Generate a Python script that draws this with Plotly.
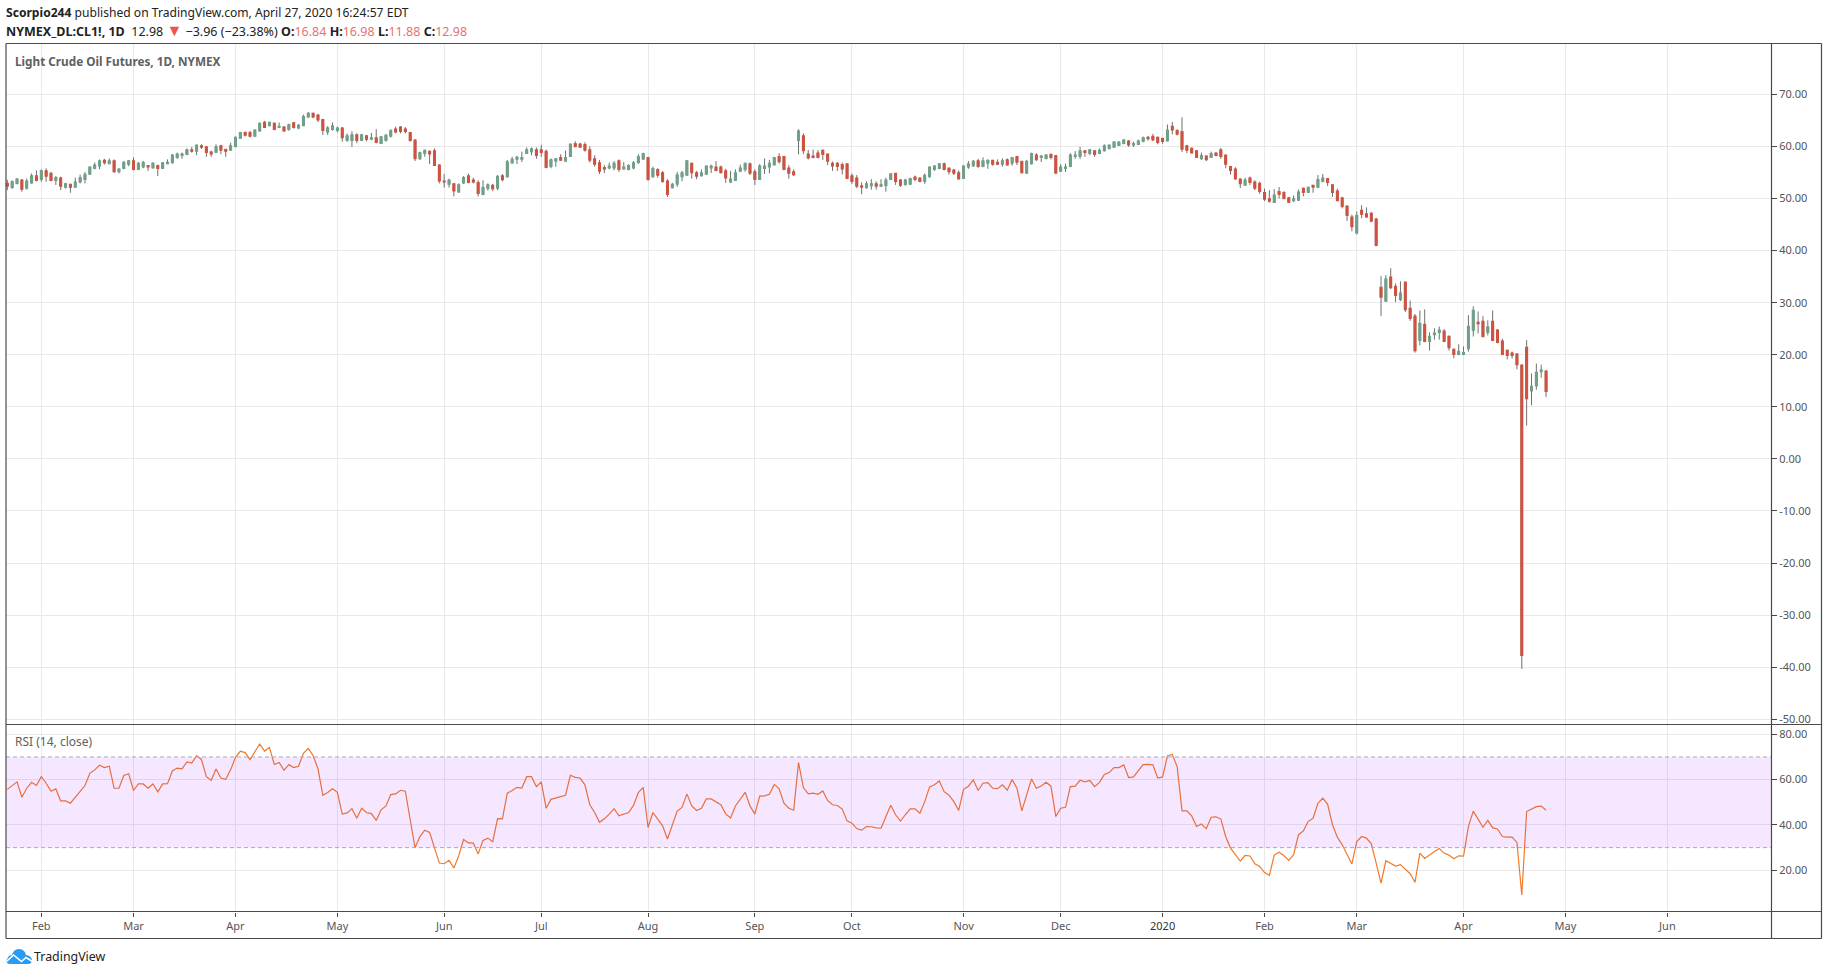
import plotly.graph_objects as go

W, H = 1828, 975

# ---------- Price data ----------
opens = [
52.9,52.1,52.9,53.5,52,53,54.3,53.7,55.3,54.8,
53.5,53.9,52.2,52.7,52.2,53.2,53.7,54.7,55.8,56.3,
57.3,56.7,57.2,55.2,55.8,56.6,57.2,55.6,56.1,56.3,
55.9,56.3,55.8,56.7,56.9,57.9,58.3,58.5,59.3,59.1,
60.1,59.9,58.9,58.9,60.1,59.4,59.3,60,61.6,62.6,
62.6,62,63,64.6,64,64.4,63.7,63.7,63.3,64.5,
63.6,64,65.7,66.3,66,65.1,62.8,63.3,63.1,63.5,
61.2,61.2,62.2,61.2,62,61.4,61.6,60.6,61.2,62,
63.3,63.7,63.3,62.6,61.2,57.7,58.7,59,59.1,56.4,
53.3,52.8,52.8,51.3,53,54.3,53.5,53,50.8,52,
52.5,52,
54.3,54.2,56.9,57.6,57.6,58.7,59,59.3,59.3,59,
56.2,57.2,57.8,57.2,58.1,60.5,60.4,60.3,59.3,57.6,
56.8,55.9,55.9,55.9,57.2,55.7,55.6,55.9,56.9,57.6,
57.8,54.2,55.5,54.9,53.3,52.1,52.8,54.2,54.5,56.7,
54.9,54.4,54.7,55.9,56,56,55.3,53.2,53.5,55.3,
55.6,56.6,55.1,53.7,55.8,56.1,56.5,58,58,55.8,
55.1,61.2,62,58.5,58.1,58.7,59.2,58.5,56.7,56.7,
56.5,56.6,54.3,53.9,52.4,52.1,52.5,52.8,52.4,52.5,
53.7,54.8,53.5,52.7,52.8,54.1,53.9,53.3,54.2,55.6,
55.8,56.6,55.8,55.4,54.9,53.9,56.1,56.3,57.2,56.2,
56.8,57.3,56.9,
56.6,57.4,56.8,58,57.1,54.9,56.7,58.3,57.9,57.7,
58.4,58.2,55.3,55.8,56.2,58.1,58.1,59.1,58.7,59.1,
58.7,59.2,59.6,59.9,60.2,60.6,61,60.3,60.4,61,
61.7,61.9,61.7,61.5,61.1,63.8,63,62.8,60.1,59.6,
59.1,57.7,58.1,57.9,58.7,59.3,58.3,56.1,55.6,53.7,
52.6,53.9,53.1,52.9,51.1,49.9,49.3,51.3,51.1,50.1,
49.6,49.7,51.9,51.2,52.5,52.2,53.3,53.8,52.6,51.4,
50.1,48.5,46.4,43.4,47.7,47,47.1,46,
32.9,30.3,34.9,33.1,30.6,33.9,28.9,27.4,22.8,25.8,
22.6,23.9,24.3,24.5,23.5,21,20.1,20.1,21.2,24.7,
26.2,26.4,24.3,26.4,24.7,22.6,20.8,20.3,20.1,18,
21.4,13.1,14.1,16.8,16.84]

closes = [
52.4,53.2,53.7,51.8,53.3,54.3,53.5,55.3,54.3,53.5,
54,52.4,52.8,52.2,53.1,54,54.6,56,56.4,57.2,
56.9,57.2,55.2,55.6,56.9,57.2,55.6,56.7,56.9,56.1,
56.7,55.8,56.8,56.9,58.3,58.5,58.5,59.3,59.1,60.2,
59.9,58.9,58.6,59.9,59.3,59.1,60.1,61.7,62.6,62.2,
62,63.1,64.4,63.7,64.6,63.3,63.8,63,64.1,63.7,
64,65.7,66.3,65.7,65.1,63.1,63.5,63.9,63.5,61.7,
62,62.2,61.2,62.2,61.4,61.6,60.8,61.8,62.1,63,
62.8,62.9,62.9,61.2,57.7,58.8,59.2,58.6,56.4,53.4,
53.2,53.5,51.5,52.6,54,53.1,53.2,51,52.1,52.6,
51.9,54.2,
53.65,57,57.5,57.9,57.8,59.3,59.5,58.3,58.9,56,
57.4,57.6,57.4,57.8,60.4,60,59.9,59.3,57.4,56.6,
55.3,55.7,56.2,56.7,55.6,56,56.3,56.8,58,58.6,
53.7,55.7,54.5,53.3,50.8,52.7,54.5,54.9,57.2,55,
54.3,54.9,56.2,56.2,55.4,55,54,53.7,54.9,55.8,
56.7,54.9,53.7,56.2,56.2,56.7,57.8,57.1,55.6,54.9,
54.6,62.9,59.2,57.8,57.9,57.9,58.5,57.2,56.3,56.2,
55.7,53.9,53.3,52.4,52.2,52.8,52.8,52.4,52.6,53.5,
54.7,53.3,52.6,53.5,53.8,53.7,53.3,54.4,56,56.2,
56.6,55.6,55.2,54.9,53.8,56.2,56.6,57.1,56.2,57.2,
57.3,56.6,56.6,
57.2,56.5,57.8,57,55,57.1,58.6,57.5,58.1,58.3,
57.9,54.9,56,56,58.3,58.3,59.1,58.9,59.3,58.5,
59.2,60.1,60.2,60.8,60.8,61.2,60.3,60.5,61,61.6,
61.5,61.3,60.8,61,63.1,63.2,62.4,59.5,59.3,58.8,
57.9,58.2,57.5,58.6,58.3,58.1,56.6,55.4,53.8,52.9,
53.5,53.1,52,51.4,49.9,49.5,50.6,50.8,50,49.3,
49.9,51.2,51.2,52.1,52.2,53.6,53.9,53.1,51.2,49.6,
48.5,46.8,44.6,46.7,47,46.5,45.7,41,
31.1,34.5,32.9,31.4,31.8,28.7,27,20.8,26,22.6,
23.5,24.1,24.7,22.6,21.4,20.1,20.6,20.4,25.4,28.5,
26,23.5,25.3,22.8,22.4,20.1,19.9,19.9,18.1,-37.7,
11.6,13.9,16.6,17,12.98]

highs = [
53.6,53.5,53.9,53.7,53.8,54.8,55.4,55.6,55.8,55.1,
54.3,54.2,53,52.8,54,54.6,55.1,56.2,56.9,57.5,
57.6,57.7,57.5,55.8,57.2,57.4,57.9,57,57.2,56.4,
57,56.5,57,57.5,58.5,58.8,58.8,59.6,59.9,60.3,
60.4,59.9,59.2,60.4,60.3,59.5,60.7,61.9,62.8,62.9,
63,63.3,64.6,64.9,64.7,64.6,64.6,63.9,64.4,64.7,
64.3,66.1,66.6,66.5,66.2,65.3,63.9,64.6,63.8,63.7,
62.5,62.9,62.5,62.4,62.2,62.6,63.3,62,62.4,63.3,
63.8,63.9,63.7,62.8,61.3,59,59.4,59.2,59.6,56.5,
54.7,53.8,52.9,52.9,54.3,54.8,54,53.5,53.5,52.9,
52.8,54.5,
54.7,57.4,58,58.1,59,59.8,59.8,59.8,60.3,59.4,
57.7,57.7,58.5,59.2,60.4,61,60.7,60.8,60,58.3,
57.4,56.4,56.9,57.2,57.5,57,56.6,57.2,58.5,58.8,
58,56.1,55.8,55.3,53.7,53,55.1,55.3,57.4,56.9,
55.3,55.6,56.3,56.5,57.2,56.3,55.7,55.3,55.6,56.5,
56.9,56.9,55.6,56.6,57.7,57.4,58,58.7,58.2,56.4,
55.6,63.3,62.5,59.3,59.4,59.3,59.4,58.5,57.1,57,
56.9,56.6,54.8,54.5,53.1,53.3,53.7,53.3,53.7,54,
54.8,54.8,53.7,53.8,54,54.4,54,54.8,56.1,56.4,
56.8,56.9,55.8,55.7,55.4,56.3,57.2,57.4,57.6,57.9,
57.5,57.4,57.5,
57.7,57.7,58,58.2,57.2,57.4,58.8,58.7,58.3,58.5,
58.7,58.3,56.6,56.7,58.7,59.1,59.9,59.3,59.5,59.3,
59.6,60.4,60.3,61,61,61.4,61.2,60.9,61.3,61.9,
62,62.4,61.9,61.6,64.2,64.7,63.3,65.6,60.3,59.8,
59.3,58.8,58.3,59,58.8,59.7,58.3,56.2,56,53.8,
54,54.2,53.5,53.2,51.9,51.6,51.8,52.2,51.4,50.3,
50.6,51.7,52.1,52.3,52.6,54.5,54.7,53.8,52.6,51.9,
50.3,48.6,46.9,47.5,48.7,48.3,47.4,46.3,
35.1,35.3,36.6,33.7,34.1,33.9,30.4,27.8,28.5,28.7,
24.3,25.1,25.4,24.9,23.7,21.2,22,21.6,27.6,29.3,
28.3,27.4,26.6,28.5,24.9,23.1,21,20.6,20.3,18,
22.8,16.4,18.3,18.1,16.98]

lows = [
51.6,51.9,52.8,51.3,51.7,52.9,53.3,53.2,53.2,53.3,
52.6,51.6,51.9,51.1,52.1,52.9,52.9,54.5,55.6,55.6,
56.5,56.6,54.9,54.8,55.6,56.2,55.4,55.6,55.8,55.3,
55.8,54.3,55.8,56.6,56.7,57.6,57.6,58.3,58.8,58.3,
59.5,58,58,58.8,58.5,58,59.3,59.9,61.5,61.9,
61.7,61.9,62.9,63.5,63.9,63.1,63.5,62.8,63,63.4,
63.3,63.9,65.5,65.4,64.7,62.2,62.2,63,62.7,60.9,
60.9,59.9,60.6,61,61,61.2,60.6,60.5,60.9,61.7,
62.5,62.5,62.5,60.9,57.2,57.4,58,56.6,56.3,52.9,
52.1,52.1,50.4,51.1,52.8,52.9,52.9,50.4,50.6,51.5,
51.4,51.6,
53.3,54,56.6,56.6,57,58.5,58.3,57.6,58,55.8,
55.8,56.1,57.2,57.2,58.1,59.9,59.8,59,56.9,56.1,
54.7,54.9,55.6,55.4,55.1,55.6,55.4,55.6,56.7,57.5,
53.4,54,54,53,50.3,51.9,52.2,53.3,54.4,53.8,
53.7,54.2,54.7,54.9,55.2,54.8,53,53,53.5,55.1,
55.1,54.5,52.6,53.7,54.7,54.8,56.4,56.7,55.4,53.8,
54.3,58.5,58.5,57.5,57.7,57.7,57.4,56.4,55.3,55.3,
54.6,53.7,52.8,52,50.8,51.9,51.7,51.7,52.2,51.3,
53.5,52.6,52.2,52.5,52.6,53.3,53.1,52.8,54,55.3,
55.6,55.4,54.6,54.5,53.7,53.8,55.7,56.1,55.9,56,
55.7,56.3,56.4,
56.1,56.3,56.3,56.4,54.8,54.7,56.5,57.2,57,57.6,
57.5,54.9,55.1,55.1,56,57.6,57.6,58,58.3,58,
58.5,59,59.5,59.7,60.1,60.4,59.9,59.9,60.3,60.8,
61.1,61,60.4,60.5,61,62.3,62.1,58.9,58.7,58.7,
57.8,57.4,57.2,57.8,58.1,57.6,55.8,54.6,53.7,52,
52.5,52.6,51.6,50.9,49.5,49.2,49.2,50,49.9,49.3,
49.3,49.6,50.4,51.1,51.1,52,53.1,52.4,50.3,49.5,
48.1,45.7,43.7,43.1,46.2,46.3,45.5,40.8,
27.4,30.3,32.6,30.1,30.3,28.2,26.5,20.4,21.8,22.4,
20.8,22.9,22.9,22.4,20.8,19.3,19.9,19.9,20.6,23.5,
24.1,23.5,23.7,22.6,22.2,19.9,19.1,19.3,17.2,-40.3,
6.4,10.3,13.3,15.6,11.88]

# ---------- RSI (14, close) ----------
rsi_values = [
55.7,57.4,59,52.2,56.2,58.8,57.4,61.3,58.4,54.9,
55.9,50.6,50.6,49.6,52.2,55.2,57.4,62.8,64.3,66.3,
65.3,65.9,56.2,56.2,61.8,62.6,55.2,58.1,58.1,56.2,
58.1,54.6,58.1,58.2,63.8,65.1,64.7,67.8,67.3,70.6,
68.9,61.3,59.7,64.7,60.7,60.1,64.3,69.8,72.5,71.9,
68.8,72.3,75.7,72.6,74.2,66.7,67.6,64.1,66.6,65.3,
65.9,71.6,73.8,70.6,64.8,53.1,54.3,56,54.4,44.8,
45.3,47.2,43,47.4,45.5,45,42,46.7,48.4,53.4,
53.7,55.3,54.9,42.3,29.9,34.9,37.7,36.7,29.4,23.2,
22.9,24.4,21,26.4,33.6,32.1,32,27.2,33.2,34.2,
32.6,42.8,42.7,54,55.2,56.6,56.3,61.3,61.3,56.9,
59,47.4,51.3,51.9,52.5,53.1,61.9,61,60.7,57.7,
48.9,45.5,41.2,42.7,44.8,47.2,44,
44.6,45.5,48.6,54.3,56.6,38.9,45.5,42.8,39.6,33.8,
39.6,46.1,47.7,53.7,48.4,46.4,47.4,51.5,51.5,50.2,
48.9,44.9,43.1,48.4,51.3,54.4,48.4,44.8,52.7,52.8,
53.5,57.9,55.9,49.6,47.4,46.5,67.5,56.5,53.7,54,
53.5,55,50.8,48.9,48.6,47,41.8,40.8,38.4,37.7,
39.3,39.2,38.7,38.6,43.7,48.7,44.5,41.7,44.5,47.1,
47.1,45.2,50.3,56.8,57.7,59.4,54.7,53.1,50.3,46.4,
55.7,57.1,59.9,55.2,58.4,58.7,56.2,56,57.7,55.3,
60,56.2,46.2,53.7,60.3,56.2,57.2,58.8,57.1,43.7,
47.4,47.8,56.9,57.1,59.7,59,59.6,56.9,58.8,62.3,
63.1,65.3,65.3,66.5,60.9,61.2,64,66.6,66.7,66.5,
60.7,61.2,70.4,71.1,65.7,46.2,46.2,44,39.3,40.4,
38.3,43.4,43.6,42.6,
34.9,29.8,26.9,24.1,26.6,26.3,22.9,21.7,19,17.8,
26.7,28,26.4,24.4,26.9,35.7,37.4,41.5,43,49.6,
51.8,49.1,40.1,34.6,31.3,27.2,22.8,32.7,34.9,34.2,
31.7,23.2,14.3,24.2,23.2,21.9,22.5,20.3,18.5,14.7,
27.6,25.2,26.9,28.3,29.6,27.6,26.7,25.1,26.4,26.3,
39.3,46.1,42.6,39,42,38.7,38.2,34.9,34.6,34.6,
32.3,9.1,45.9,47,48.1,48.3,46.5]

bar_index = list(range(len(opens)))

# ---------- Axis labels ----------
month_ticks = [7, 26, 47, 68, 90, 110, 132, 154, 174, 197, 217, 238, 259, 278, 300, 321, 342]
month_labels = ["Feb", "Mar", "Apr", "May", "Jun", "Jul", "Aug", "Sep", "Oct", "Nov", "Dec",
                "<span style='color:#333'>2020</span>", "Feb", "Mar", "Apr", "May", "Jun"]
price_ticks = [70, 60, 50, 40, 30, 20, 10, 0, -10, -20, -30, -40, -50]
price_labels = ["70.00", "60.00", "50.00", "40.00", "30.00", "20.00", "10.00", "0.00",
                "-10.00", "-20.00", "-30.00", "-40.00", "-50.00"]
rsi_ticks = [80, 60, 40, 20]
rsi_labels = ["80.00", "60.00", "40.00", "20.00"]

# ---------- Style ----------
FONT = "Noto Sans"
UP, DOWN, WICK = "#6FA088", "#CF5240", "#707072"
GRID = "#E9E9E9"
FRAME = "#4A4A4A"
TICKTXT = "#555555"

def px(x):
    return x / W
def py(y):
    return 1 - y / H

body_high = [max(a, b) for a, b in zip(opens, closes)]
body_low = [min(a, b) for a, b in zip(opens, closes)]

fig = go.Figure()
# wicks (grey), then coloured bodies on top
fig.add_trace(go.Candlestick(x=bar_index, open=opens, high=highs, low=lows, close=closes,
                             name="CL1! wicks", whiskerwidth=0,
                             increasing=dict(line=dict(color=WICK, width=1), fillcolor=UP),
                             decreasing=dict(line=dict(color=WICK, width=1), fillcolor=DOWN),
                             xaxis="x", yaxis="y", showlegend=False))
fig.add_trace(go.Candlestick(x=bar_index, open=opens, high=body_high, low=body_low, close=closes,
                             name="CL1!", whiskerwidth=0,
                             increasing=dict(line=dict(color=UP, width=1.5), fillcolor=UP),
                             decreasing=dict(line=dict(color=DOWN, width=1.5), fillcolor=DOWN),
                             xaxis="x", yaxis="y", showlegend=False))
fig.add_trace(go.Scatter(x=bar_index, y=rsi_values, mode="lines", name="RSI",
                         line=dict(color="#F07A28", width=1.2), xaxis="x2", yaxis="y2",
                         showlegend=False))

x_rng = [-0.27, 363.34]
x_dom = [px(6), px(1771)]
common_x = dict(range=x_rng, domain=x_dom, tickmode="array", tickvals=month_ticks,
                showgrid=True, gridcolor=GRID, gridwidth=1, zeroline=False, showline=False)

shapes = [
    # RSI band and its dashed limits, above the line as on the original
    dict(type="rect", xref="x2 domain", yref="y2", x0=0, x1=1, y0=30, y1=70, layer="above",
         fillcolor="rgba(153,21,255,0.10)", line=dict(width=0)),
    dict(type="line", xref="x2 domain", yref="y2", x0=0, x1=1, y0=70, y1=70, layer="above",
         line=dict(color="#ABA8B4", width=1, dash="4px,3px")),
    dict(type="line", xref="x2 domain", yref="y2", x0=0, x1=1, y0=30, y1=30, layer="above",
         line=dict(color="#ABA8B4", width=1, dash="4px,3px")),
]
# chart frame
for x0, y0, x1, y1 in [(6, 43.5, 1821.5, 43.5), (6, 938.5, 1821.5, 938.5), (6, 43.5, 6, 938.5),
                       (1821.5, 43.5, 1821.5, 938.5), (1771.5, 43.5, 1771.5, 938.5),
                       (6, 724.5, 1821.5, 724.5), (6, 911.5, 1821.5, 911.5)]:
    shapes.append(dict(type="line", xref="paper", yref="paper", x0=px(x0), x1=px(x1),
                       y0=py(y0), y1=py(y1), layer="above", line=dict(color=FRAME, width=1.2)))
# TradingView logo
def pth(cmds):
    out = []
    for c in cmds:
        if isinstance(c, str):
            out.append(c)
        else:
            out.append(f"{px(c[0]):.6f},{py(c[1]):.6f}")
    return " ".join(out)
shapes.append(dict(type="path", xref="paper", yref="paper", layer="above", fillcolor="#2A9BF3",
                   line=dict(width=0),
                   path=pth(["M", (9.5, 964), "C", (6.5, 964), (5.5, 960), (7.5, 958.5),
                             "C", (8, 956), (10, 955), (12, 955),
                             "C", (13, 951), (16, 949), (19, 949),
                             "C", (23, 949), (25.5, 952), (26, 955),
                             "C", (29, 955), (32.5, 958), (32, 960.5),
                             "C", (32, 963), (30, 964), (28.5, 964), "Z"])))
shapes.append(dict(type="path", xref="paper", yref="paper", layer="above",
                   line=dict(color="white", width=1.6),
                   path=pth(["M", (6.5, 961.5), "L", (13.5, 955), "L", (21.5, 961.5),
                             "L", (26, 957.5), "L", (32.5, 961.5)])))

DOWN_TXT = "#E57373"
def lbl(v):
    return f"<span style='color:{DOWN_TXT}'>{v}</span>"
header2 = ("<b>NYMEX_DL:CL1!, 1D</b>&nbsp; 12.98 <span style='color:#EF5350;font-size:16px'>▼</span> −3.96 (−23.38%) "
           f"<b>O:</b>{lbl('16.84')} <b>H:</b>{lbl('16.98')} <b>L:</b>{lbl('11.88')} <b>C:</b>{lbl('12.98')}")

def note(text, x, y, size, color):
    return dict(text=text, xref="paper", yref="paper", x=px(x), y=py(y), xanchor="left",
                yanchor="middle", showarrow=False, align="left", borderpad=0,
                font=dict(family=FONT, size=size, color=color))

annotations = [
    note("<b>Scorpio244</b> published on TradingView.com, April 27, 2020 16:24:57 EDT", 5, 13, 12.1, "#222222"),
    note(header2, 5, 30, 12.5, "#222222"),
    note("<b>Light Crude Oil Futures, 1D, NYMEX</b>", 14, 60.5, 11.75, "#606060"),
    note("RSI (14, close)", 14, 741.5, 12, "#606060"),
    note("TradingView", 33, 956.5, 12.4, "#222222"),
]

fig.update_layout(
    width=W, height=H, margin=dict(l=0, r=0, t=0, b=0, pad=0, autoexpand=False),
    paper_bgcolor="white", plot_bgcolor="white",
    font=dict(family=FONT, size=11, color=TICKTXT),
    boxmode="overlay", boxgap=0.55, hovermode=False, showlegend=False,
    xaxis=dict(common_x, anchor="y", showticklabels=False, ticks="",
               rangeslider=dict(visible=False)),
    xaxis2=dict(common_x, anchor="y2", ticktext=month_labels, showticklabels=True,
                ticks="outside", ticklen=4, tickcolor=FRAME, tickwidth=1,
                tickfont=dict(family=FONT, size=11, color=TICKTXT),
                matches="x", rangeslider=dict(visible=False)),
    yaxis=dict(domain=[py(724.3), py(43.8)], range=[-50.96, 79.7], side="right", anchor="x",
               tickmode="array", tickvals=price_ticks, ticktext=price_labels,
               showgrid=True, gridcolor=GRID, gridwidth=1, zeroline=False, showline=False,
               ticks="outside", ticklen=5, tickcolor=FRAME, tickwidth=1,
               tickfont=dict(family=FONT, size=11, color=TICKTXT)),
    yaxis2=dict(domain=[py(911.7), py(724.3)], range=[1.74, 84.4], side="right", anchor="x2",
                tickmode="array", tickvals=rsi_ticks, ticktext=rsi_labels,
                showgrid=True, gridcolor=GRID, gridwidth=1, zeroline=False, showline=False,
                ticks="outside", ticklen=5, tickcolor=FRAME, tickwidth=1,
                tickfont=dict(family=FONT, size=11, color=TICKTXT)),
    shapes=shapes, annotations=annotations,
)

fig.write_html("out.html", config=dict(displayModeBar=False),
               post_script="document.body.style.margin='0';document.body.style.overflow='hidden';")
